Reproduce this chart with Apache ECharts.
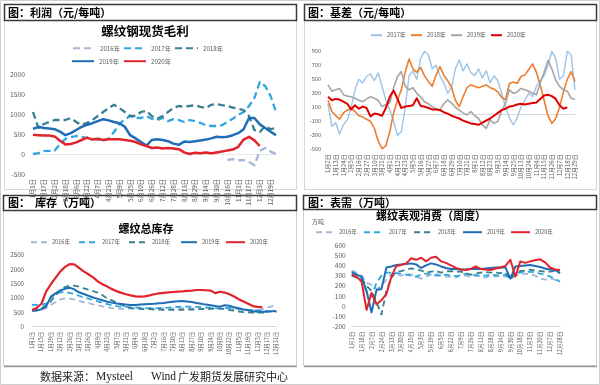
<!DOCTYPE html>
<html><head><meta charset="utf-8">
<script src="https://cdn.jsdelivr.net/npm/echarts@6/dist/echarts.min.js"></script>
<style>html,body{margin:0;padding:0;background:#fff}#c{width:600px;height:385px}</style>
</head><body><div id="c"></div>
<script>
// ---------- 螺纹钢现货毛利 (元/吨) ----------
const profitDates = ['1月1日','1月9日','1月17日','1月25日','2月2日','2月10日','2月18日','2月26日','3月6日','3月14日','3月22日','3月30日','4月7日','4月15日','4月23日','5月1日','5月9日','5月17日','5月25日','6月2日','6月10日','6月18日','6月26日','7月4日','7月12日','7月20日','7月28日','8月5日','8月13日','8月21日','8月29日','9月6日','9月14日','9月22日','9月30日','10月8日','10月16日','10月24日','11月1日','11月9日','11月17日','11月25日','12月3日','12月11日','12月19日','12月27日'];
const profit2016 = [null,null,null,null,null,null,null,null,null,null,null,null,null,null,null,null,null,null,null,null,null,null,null,null,null,null,null,null,null,null,null,null,null,null,null,null,-150,-130,-160,-150,-200,-280,80,150,60,0];
const profit2017 = [0,20,70,80,80,250,380,420,450,430,400,380,360,340,380,550,750,870,950,900,900,950,880,850,900,820,870,850,800,850,820,780,720,700,700,720,800,880,980,1050,1200,1400,1800,1700,1450,1050];
const profit2018 = [1050,650,750,800,850,850,850,900,800,720,780,850,950,1050,1150,1230,1150,1050,950,950,1050,1080,950,880,950,1050,1150,1200,1180,1200,1220,1180,1150,1230,1250,1220,1200,1160,1130,1100,950,600,550,700,620,650];
const profit2019 = [630,680,650,640,620,560,470,520,600,680,730,770,820,870,840,800,770,680,470,390,300,210,350,370,350,320,260,230,310,300,320,340,360,390,430,420,430,470,520,620,900,900,740,650,560,470];
const profit2020 = [480,470,460,460,440,330,240,250,290,350,410,360,380,350,370,370,370,350,330,300,240,200,150,160,140,150,140,120,40,0,30,20,40,20,40,60,90,110,180,360,430,340,200];

// ---------- 基差 (元/吨) ----------
const basisDates = ['1月2日','1月8日','1月13日','1月18日','1月24日','1月30日','2月5日','2月10日','2月16日','2月21日','2月27日','3月4日','3月10日','3月15日','3月21日','3月26日','4月1日','4月6日','4月12日','4月17日','4月23日','4月29日','5月5日','5月10日','5月16日','5月21日','5月27日','6月1日','6月7日','6月12日','6月18日','6月23日','6月29日','7月4日','7月10日','7月15日','7月21日','7月26日','8月1日','8月6日','8月12日','8月17日','8月23日','8月28日','9月3日','9月8日','9月14日','9月19日','9月25日','10月8日','10月13日','10月18日','10月24日','10月29日','11月4日','11月9日','11月15日','11月20日','11月26日','12月1日','12月7日','12月12日','12月18日','12月23日','12月29日'];
const basis2017 = [150,-170,-120,-280,-150,-80,100,350,500,450,540,580,480,590,400,200,60,-100,-300,-250,100,550,620,500,800,900,850,650,700,550,450,300,380,650,780,620,720,600,550,650,520,620,450,550,480,300,100,-50,-150,-50,100,200,300,250,400,480,550,700,900,800,500,550,900,850,350];
const basis2018 = [200,40,-20,-70,20,60,80,40,-20,-40,-70,-100,-200,-380,-490,-450,-250,20,200,350,600,790,650,600,670,550,470,400,560,680,560,480,390,200,110,250,380,420,400,380,400,420,380,360,320,240,210,440,460,440,540,560,640,720,600,420,200,-20,-130,-60,100,320,500,610,470];
const basis2019 = [420,330,350,370,280,260,250,230,200,180,220,250,230,200,110,140,160,380,540,610,400,350,380,300,250,180,150,110,80,60,150,205,160,100,60,20,-10,40,-20,-60,-150,-200,-80,-130,-100,50,160,350,300,320,370,350,330,300,280,450,600,770,650,490,400,350,330,230,210];
const basis2020 = [250,200,220,210,180,150,70,130,80,110,90,-30,10,0,-20,90,250,340,220,90,110,120,130,230,120,110,90,70,70,60,30,10,-20,-40,-60,-90,-110,-130,-140,-150,-120,-90,-60,-20,20,60,80,110,120,140,150,140,150,160,170,220,270,280,260,220,130,80,100];

// ---------- 螺纹总库存 (万吨) ----------
const invDates = ['1月1日','1月8日','1月15日','1月22日','1月29日','2月5日','2月12日','2月19日','2月26日','3月5日','3月12日','3月19日','3月26日','4月2日','4月9日','4月16日','4月23日','4月30日','5月7日','5月14日','5月21日','5月28日','6月4日','6月11日','6月18日','6月25日','7月2日','7月9日','7月16日','7月23日','7月30日','8月6日','8月13日','8月20日','8月27日','9月3日','9月10日','9月17日','9月24日','10月1日','10月8日','10月15日','10月22日','10月29日','11月5日','11月12日','11月19日','11月26日','12月3日','12月10日','12月17日','12月24日','12月31日'];
const inv2016 = [580,580,600,650,760,850,950,990,980,950,900,860,820,780,750,710,680,650,630,620,630,640,650,640,630,640,640,650,640,640,640,650,650,650,640,640,630,620,610,610,610,620,620,610,600,600,590,590,580,610,660,710,760];
const inv2017 = [760,760,770,800,1000,1150,1200,1210,1180,1130,1080,1020,980,930,880,830,790,750,720,700,690,680,670,660,650,645,640,645,655,665,680,690,700,700,695,690,680,670,660,650,640,650,660,640,620,600,590,580,570,560,545,530,520];
const inv2018 = [580,590,650,740,880,1080,1280,1380,1430,1430,1400,1340,1290,1240,1190,1100,990,920,840,770,690,650,630,620,610,610,600,600,590,590,590,590,590,600,600,600,610,620,630,640,640,620,580,560,530,510,500,490,490,490,500];
const inv2019 = [560,560,610,700,1050,1160,1260,1320,1360,1300,1200,1140,1080,1020,970,920,870,840,810,790,770,760,760,770,780,790,800,815,830,850,870,890,900,880,860,830,800,770,750,720,700,750,730,680,640,600,570,540,520,520,520,540,550];
const inv2020 = [580,650,800,1220,1480,1700,1920,2080,2180,2170,2050,1930,1830,1720,1580,1480,1400,1310,1240,1180,1130,1090,1060,1050,1060,1090,1130,1160,1180,1200,1210,1220,1230,1250,1260,1280,1280,1270,1260,1170,1220,1190,1130,1050,960,880,800,720,690,680];

// ---------- 螺纹表观消费 (万吨, 周度) ----------
const consDates = ['1月1日','1月9日','1月18日','1月28日','2月7日','2月15日','2月24日','3月4日','3月13日','3月21日','3月30日','4月7日','4月15日','4月24日','5月3日','5月11日','5月19日','5月27日','6月5日','6月13日','6月22日','6月30日','7月9日','7月17日','7月26日','8月3日','8月11日','8月19日','8月28日','9月5日','9月14日','9月22日','9月30日','10月9日','10月18日','10月26日','11月3日','11月11日','11月20日','11月28日','12月7日','12月17日','12月28日'];
const cons2016 = [350,330,300,230,210,170,200,260,320,310,300,320,310,290,270,290,310,320,300,290,290,280,310,300,290,300,290,280,300,290,300,290,300,310,300,320,310,300,270,260,270,260,230];
const cons2017 = [340,310,260,140,100,230,300,330,330,325,320,310,300,290,310,320,310,300,300,310,300,295,300,320,315,305,300,300,310,305,300,310,265,330,330,335,340,330,320,310,290,270,240];
const cons2018 = [300,280,270,200,150,40,-80,150,280,340,345,360,370,365,350,330,340,345,330,340,345,340,340,320,310,320,330,335,330,330,325,330,260,320,345,350,360,350,345,340,340,345,330];
const cons2019 = [330,310,290,150,-60,160,170,380,390,405,410,415,420,410,375,400,420,410,390,375,365,365,360,360,365,365,365,370,375,380,380,380,270,390,395,400,405,395,385,370,360,355,325];
const cons2020 = [310,290,240,-35,130,20,60,120,290,395,405,420,470,455,475,440,475,485,440,425,400,375,360,355,365,390,365,360,355,370,380,395,455,290,440,425,440,450,460,430,380,360,355];

// ---------- styling ----------
const F = '"Noto Sans CJK SC", sans-serif';
const LBL = '#595959';
const C16 = '#a3b7d7', C17 = '#2ea6df', C18 = '#37808f', C19 = '#1f6db5', C20 = '#e3232b';
const B17 = '#9dc3e6', B18 = '#ed7d31', B19 = '#a5a5a5', B20 = '#e00000';

function ls(name, data, gi, color, width, dash) {
  return {
    type: 'line', name: name, data: data, xAxisIndex: gi, yAxisIndex: gi,
    symbol: 'none', showSymbol: false, smooth: false,
    lineStyle: {color: color, width: width, type: dash || 'solid', join: 'round'},
    itemStyle: {color: color}, emphasis: {disabled: true}
  };
}
const D1 = [7, 4], D2 = [6, 4];

const series = [
  ls('p2016', profit2016, 0, C16, 2.3, D1),
  ls('p2017', profit2017, 0, C17, 2.3, D1),
  ls('p2018', profit2018, 0, C18, 2.3, D1),
  ls('p2019', profit2019, 0, C19, 2.5),
  ls('p2020', profit2020, 0, C20, 2.5),
  ls('b2017', basis2017, 1, B17, 1.4),
  ls('b2018', basis2018, 1, B18, 1.6),
  ls('b2019', basis2019, 1, B19, 1.6),
  ls('b2020', basis2020, 1, B20, 2.0),
  ls('i2016', inv2016, 2, C16, 1.8, D2),
  ls('i2017', inv2017, 2, C17, 1.8, D2),
  ls('i2018', inv2018, 2, C18, 1.8, D2),
  ls('i2019', inv2019, 2, C19, 2.0),
  ls('i2020', inv2020, 2, C20, 2.2),
  ls('c2016', cons2016, 3, C16, 1.8, D2),
  ls('c2017', cons2017, 3, C17, 1.8, D2),
  ls('c2018', cons2018, 3, C18, 1.8, D2),
  ls('c2019', cons2019, 3, C19, 2.0),
  ls('c2020', cons2020, 3, C20, 2.0)
];

function leg(name, left, cy, iw, fs) {
  return {
    data: [name], left: left, top: cy - 4, itemWidth: iw, itemHeight: 8, padding: 0, itemGap: 0,
    selectedMode: false, formatter: function (n) { return n.slice(1) + '年'; },
    itemStyle: {color: 'rgba(0,0,0,0)', borderWidth: 0, opacity: 0},
    textStyle: {fontSize: fs, color: LBL, fontFamily: F}
  };
}
const legends = [
  leg('p2016', 72, 49, 22, 6.2), leg('p2017', 123, 49, 22, 6.2), leg('p2018', 174, 49, 23, 6.2),
  leg('p2019', 71, 62, 22, 6.2), leg('p2020', 123, 62, 22, 6.2),
  leg('b2017', 370, 36, 11, 5.8), leg('b2018', 410, 36, 11, 5.8), leg('b2019', 450, 36, 11, 5.8), leg('b2020', 490, 36, 11, 5.8),
  leg('i2016', 30, 243, 16, 5.6), leg('i2017', 78, 243, 18, 5.6), leg('i2018', 128, 243, 18, 5.6), leg('i2019', 180, 243, 16, 5.6), leg('i2020', 225, 243, 19, 5.6),
  leg('c2016', 315, 233, 18, 5.5), leg('c2017', 363, 233, 20, 5.5), leg('c2018', 413, 233, 19, 5.5), leg('c2019', 462, 233, 19, 5.5), leg('c2020', 510, 233, 19, 5.5)
];

function xa(gi, data, fs, onZero, lineColor) {
  return {
    type: 'category', gridIndex: gi, data: data, boundaryGap: false, position: 'bottom',
    axisLine: {show: !!lineColor, onZero: onZero, lineStyle: {color: lineColor || '#fff', width: 1}},
    axisTick: {show: false},
    axisLabel: {interval: 1, rotate: 90, fontSize: fs, color: LBL, margin: 5, fontFamily: F}
  };
}
function plain(v) { return String(v); }
function ya(gi, min, max, interval, fs, margin, fmt) {
  return {
    type: 'value', gridIndex: gi, min: min, max: max, interval: interval,
    axisLine: {show: false}, axisTick: {show: false}, splitLine: {show: false},
    axisLabel: {fontSize: fs, color: LBL, margin: margin, fontFamily: F, formatter: fmt || plain}
  };
}

const xAxes = [
  xa(0, profitDates, 6.3, true, '#e6e6e6'),
  xa(1, basisDates, 6.0, false, null),
  xa(2, invDates, 5.5, true, '#d9d9d9'),
  xa(3, consDates, 5.6, false, '#d9d9d9'),
  {type: 'category', gridIndex: 1, data: basisDates, boundaryGap: false, position: 'bottom',
   axisLine: {show: true, onZero: true, lineStyle: {color: '#d9d9d9', width: 1}},
   axisTick: {show: false}, axisLabel: {show: false}}
];
const yAxes = [
  ya(0, -500, 2000, 500, 6.8, 8),
  ya(1, -500, 900, 100, 5.6, 7, function (v) { return ((v + 500) % 200 === 0) ? String(v) : ''; }),
  ya(2, 0, 2500, 500, 6.2, 8),
  ya(3, -200, 600, 100, 6.6, 6)
];

const grids = [
  {left: 33, top: 74, width: 243, height: 100, outerBoundsMode: 'none'},
  {left: 328, top: 51.3, width: 247, height: 98, outerBoundsMode: 'none'},
  {left: 32, top: 255, width: 244.4, height: 71.7, outerBoundsMode: 'none'},
  {left: 351.7, top: 245, width: 208.3, height: 81.7, outerBoundsMode: 'none'}
];

function txt(x, y, s, font, fill, align) {
  return {type: 'text', x: x, y: y, silent: true,
    style: {text: s, font: font, fill: fill || '#000', align: align || 'left', verticalAlign: 'middle'}};
}
function box(x, y, w, h, stroke, lw, fill) {
  return {type: 'rect', silent: true, shape: {x: x, y: y, width: w, height: h},
    style: {fill: fill || 'none', stroke: stroke, lineWidth: lw || 1}};
}
const HF = 'bold 11px ' + F;
const graphics = [
  box(0.5, 0.5, 599, 384, '#cfcfcf', 1),
  box(4.5, 20.5, 292, 169, '#d6d6d6', 1),
  box(304.5, 20.5, 292, 169, '#d6d6d6', 1),
  box(3.5, 210.5, 293, 155, '#d0d0d0', 1),
  box(303.5, 209.5, 293, 156, '#d0d0d0', 1),
  {type: 'line', silent: true, shape: {x1: 4, y1: 366.5, x2: 297, y2: 366.5}, style: {stroke: '#9a9a9a', lineWidth: 1.5}},
  {type: 'line', silent: true, shape: {x1: 304, y1: 366.5, x2: 597, y2: 366.5}, style: {stroke: '#9a9a9a', lineWidth: 1.5}},
  box(4.5, 4.5, 292, 16, '#3a3a3a', 1.5, '#fff'),
  box(304.5, 4.5, 292, 16, '#3a3a3a', 1.5, '#fff'),
  box(3.5, 195.5, 293, 15, '#3a3a3a', 1.5, '#fff'),
  box(303.5, 195.5, 293, 14, '#3a3a3a', 1.5, '#fff'),
  txt(8, 13, '图：利润（元/每吨）', HF),
  txt(308, 13, '图：基差（元/每吨）', HF),
  txt(8, 203, '图：  库存（万吨）', HF),
  txt(308, 202.5, '图：表需（万吨）', HF),
  txt(145, 31.5, '螺纹钢现货毛利', 'bold 12.5px ' + F, '#000', 'center'),
  txt(146, 229, '螺纹总库存', 'bold 11px ' + F, '#000', 'center'),
  txt(431, 216, '螺纹表观消费（周度）', 'bold 11px ' + F, '#000', 'center'),
  txt(312, 222, '万吨', '6px ' + F, LBL),
  txt(40, 377, '数据来源：', '11px ' + F, '#222'),
  txt(96, 377, 'Mysteel', '11.5px "Liberation Serif", serif', '#222'),
  txt(151, 377, 'Wind', '11.5px "Liberation Serif", serif', '#222'),
  txt(178, 377, '广发期货发展研究中心', '11px ' + F, '#222')
];

const chart = echarts.init(document.getElementById('c'), null, {renderer: 'canvas'});
chart.setOption({
  animation: false,
  backgroundColor: '#fff',
  textStyle: {fontFamily: F},
  grid: grids,
  xAxis: xAxes,
  yAxis: yAxes,
  legend: legends,
  series: series,
  graphic: graphics
});
</script>
</body></html>
